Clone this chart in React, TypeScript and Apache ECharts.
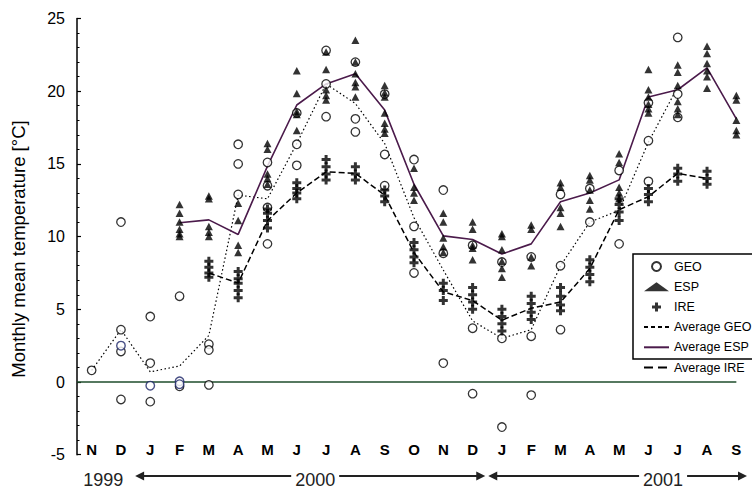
import React, { useEffect, useRef } from "react";
import * as echarts from "echarts";

// Month initials from November 1999 to September 2001
const monthLabels = ["N", "D", "J", "F", "M", "A", "M", "J", "J", "A", "S", "O", "N", "D", "J", "F", "M", "A", "M", "J", "J", "A", "S"];
const yearLabels = ["1999", "2000", "2001"];

// Monthly mean temperatures (°C) per station reading, grouped by month index
const geoReadings: number[][] = [
  [0.8], [11.0, 3.6, 2.1, -1.2], [4.5, 1.3, -1.35], [5.9, -0.3], [2.6, 2.2, -0.2],
  [16.35, 15.0, 12.9], [15.1, 13.5, 12.0, 9.5], [18.5, 16.35, 14.9], [22.8, 20.5, 18.25],
  [22.0, 18.1, 17.2], [19.8, 15.65, 13.5], [15.3, 10.7, 7.5], [13.2, 8.85, 1.3],
  [9.4, 3.7, -0.8], [8.25, 3.0, -3.1], [8.6, 3.15, -0.9], [12.9, 8.0, 3.6],
  [13.3, 11.0], [14.55, 9.5], [19.2, 16.6, 13.8], [23.7, 19.8, 18.2], [], [],
];
// GEO readings from the secondary loggers (navy outline)
const geoSecondaryReadings: number[][] = [
  [], [2.5], [-0.25], [0.05, -0.15], [], [], [], [], [], [], [], [], [], [], [], [], [], [], [], [], [], [], [],
];
const espReadings: number[][] = [
  [], [], [], [12.2, 11.6, 11.0, 10.5, 10.2, 10.0], [12.8, 12.6, 10.7, 10.3, 10.0],
  [12.3, 11.1, 9.4, 8.9], [16.4, 16.0, 14.3, 14.0, 13.6], [21.4, 19.85, 18.6, 18.4, 17.3],
  [22.7, 21.5, 20.1, 19.7, 19.4], [23.5, 22.0, 21.2, 20.6, 20.3, 19.6],
  [20.4, 19.9, 19.6, 18.5, 17.8, 17.4, 17.1], [14.7, 13.4, 13.0, 12.5],
  [11.6, 11.0, 9.9, 9.3, 8.9], [11.0, 10.5, 9.4, 9.2, 8.4], [10.2, 10.0, 9.1, 8.3, 7.8, 7.2],
  [10.8, 10.5, 8.6, 8.0], [13.7, 13.4, 12.0, 11.6, 10.7], [14.2, 13.9, 13.2, 12.5, 11.9],
  [15.7, 15.1, 13.4, 13.0, 12.6], [21.5, 20.1, 19.6, 19.1, 18.8, 18.5],
  [21.8, 21.3, 20.4, 19.3, 18.8, 18.4], [23.1, 22.6, 21.9, 21.4, 21.0, 20.2],
  [19.7, 19.4, 18.0, 17.3, 17.0],
];
const ireReadings: number[][] = [
  [], [], [], [], [8.3, 7.9, 7.5, 7.2], [7.6, 7.1, 6.8, 6.3, 5.8], [11.9, 11.6, 11.1, 10.6],
  [13.7, 13.3, 13.0, 12.6], [15.3, 14.8, 14.3, 13.9], [14.8, 14.3, 13.9], [13.2, 12.8, 12.4],
  [9.6, 9.1, 8.6, 8.2], [6.8, 6.3, 5.6], [6.5, 6.0, 5.5, 5.0], [5.0, 4.5, 4.0, 3.5],
  [5.9, 5.4, 4.8, 4.3], [6.5, 5.9, 5.3, 4.9], [8.4, 7.9, 7.4, 6.9], [12.6, 12.2, 11.7, 11.1],
  [13.3, 12.9, 12.4], [14.7, 14.3, 13.8], [14.5, 14.0, 13.6], [],
];

// Monthly averages per station
const geoAverage = [0.8, 3.6, 0.7, 1.1, 3.2, 12.85, 12.6, 16.4, 20.5, 19.15, 16.4, 11.3, 7.7, 4.2, 3.0, 3.6, 8.0, 11.0, 11.8, 16.5, 20.3, null, null];
const espAverage = [null, null, null, 10.95, 11.15, 10.15, 14.85, 19.05, 20.5, 21.2, 18.7, 13.6, 10.05, 9.8, 8.8, 9.5, 12.4, 13.0, 13.9, 19.6, 20.1, 21.6, 18.1];
const ireAverage = [null, null, null, null, 7.5, 6.8, 11.1, 13.0, 14.45, 14.35, 12.85, 8.9, 6.2, 5.6, 4.25, 5.07, 5.5, 7.8, 11.85, 12.75, 14.35, 14.0, null];

const FONT = '"Liberation Sans", Arial, Helvetica, sans-serif';
const PLUS = "path://M3,0h3v3h3v3h-3v3h-3v-3h-3v-3h3z";
// Legend entries for the average lines show the line only
const NO_MARKER = { color: "rgba(0,0,0,0)", borderColor: "rgba(0,0,0,0)", borderWidth: 0 };

function toPoints(rows: number[][]) {
  const pts: number[][] = [];
  rows.forEach((vals, i) => vals.forEach((v) => pts.push([i, v])));
  return pts;
}

export default function App() {
  const ref = useRef<HTMLDivElement>(null);

  useEffect(() => {
    document.body.style.margin = "0";
    document.body.style.overflow = "hidden";
    if (!ref.current) return;
    const chart = echarts.init(ref.current, null, { renderer: "svg" });

    const circleStyle = { color: "#fff", borderColor: "#000", borderWidth: 1.3 };

    chart.setOption({
      animation: false,
      backgroundColor: "#fff",
      grid: { left: 77, right: 1, top: 18.5, bottom: 33.3, containLabel: false },
      xAxis: {
        type: "category",
        data: monthLabels,
        boundaryGap: true,
        axisLine: { show: false },
        axisTick: { show: false },
        splitLine: { show: false },
        axisLabel: {
          interval: 0,
          margin: -13,
          color: "#000",
          fontWeight: "bold",
          fontSize: 15,
          fontFamily: FONT,
        },
      },
      yAxis: {
        type: "value",
        min: -5,
        max: 25,
        interval: 5,
        axisLine: { show: true, lineStyle: { color: "#000", width: 1.5 } },
        axisTick: { show: true, inside: true, length: 4, lineStyle: { color: "#000", width: 1.2 } },
        minorTick: { show: true, splitNumber: 5, length: 2.5, lineStyle: { color: "#000", width: 1 } },
        splitLine: { show: false },
        minorSplitLine: { show: false },
        axisLabel: { color: "#000", fontSize: 16, fontFamily: FONT, margin: 12 },
      },
      legend: {
        data: [
          { name: "GEO" },
          { name: "ESP" },
          { name: "IRE" },
          { name: "Average GEO", lineStyle: { type: [4, 3] }, itemStyle: NO_MARKER },
          { name: "Average ESP", itemStyle: NO_MARKER },
          { name: "Average IRE", lineStyle: { type: [9, 5] }, itemStyle: NO_MARKER },
        ],
        orient: "vertical",
        left: 633,
        top: 254,
        padding: [6, 40, 7, 10],
        itemWidth: 25,
        itemHeight: 9,
        itemGap: 7.2,
        borderWidth: 0,
        textStyle: { color: "#000", fontSize: 12.5, fontFamily: FONT },
      },
      series: [
        {
          name: "Average GEO",
          type: "line",
          data: geoAverage,
          symbol: "none",
          z: 2,
          lineStyle: { color: "#000", width: 1.2, type: [1.5, 2.5] },
          itemStyle: { color: "#000" },
        },
        {
          name: "Average ESP",
          type: "line",
          data: espAverage,
          symbol: "none",
          z: 2,
          lineStyle: { color: "#4b1b4b", width: 1.6, type: "solid" },
          itemStyle: { color: "#4b1b4b" },
        },
        {
          name: "Average IRE",
          type: "line",
          data: ireAverage,
          symbol: "none",
          z: 2,
          lineStyle: { color: "#000", width: 1.5, type: [6, 3] },
          itemStyle: { color: "#000" },
        },
        {
          name: "GEO",
          type: "scatter",
          data: toPoints(geoReadings),
          symbol: "circle",
          symbolSize: 8.5,
          z: 3,
          itemStyle: circleStyle,
        },
        {
          name: "GEO secondary",
          type: "scatter",
          data: toPoints(geoSecondaryReadings),
          symbol: "circle",
          symbolSize: 8.5,
          z: 3,
          itemStyle: { color: "#fff", borderColor: "#1a2366", borderWidth: 1.4 },
        },
        {
          name: "ESP",
          type: "scatter",
          data: toPoints(espReadings),
          symbol: "triangle",
          symbolSize: [8, 7.5],
          z: 4,
          itemStyle: { color: "#000" },
        },
        {
          name: "IRE",
          type: "scatter",
          data: toPoints(ireReadings),
          symbol: PLUS,
          symbolSize: 9,
          z: 5,
          itemStyle: { color: "#000" },
        },
      ],
    });

    // Annotations placed from the axes' own pixel mapping
    const px = (i: number) => chart.convertToPixel({ xAxisIndex: 0 }, i) as number;
    const y0 = chart.convertToPixel({ yAxisIndex: 0 }, 0) as number;
    const band = px(1) - px(0);
    const gridLeft = px(0) - band / 2;
    const last = monthLabels.length - 1;

    const arrowY = 476;
    const labelY = 479.5;
    const a1Start = px(1) + band / 2 - 0.5;
    const a1End = px(13) + band / 2 - 2;
    const a2Start = px(13) + band / 2 + 1;
    const a2End = px(last) + band / 2 - 4;
    const t2000 = (a1Start + a1End) / 2 + 5;
    const t2001 = (px(19) + px(20)) / 2;
    const t1999 = (px(0) + px(1)) / 2 - 3;
    const gap = 24;
    const lineStyle = { stroke: "#222", lineWidth: 2 };
    const head = (tip: number, dir: number) => ({
      type: "polygon",
      shape: { points: [[tip, arrowY], [tip - dir * 9, arrowY - 4.5], [tip - dir * 9, arrowY + 4.5]] },
      style: { fill: "#222" },
    });
    const yearText = (text: string, x: number) => ({
      type: "text",
      x,
      y: labelY,
      style: { text, fill: "#222", font: `18px ${FONT}`, textAlign: "center", textVerticalAlign: "middle" },
    });

    chart.setOption({
      graphic: [
        {
          type: "line",
          z: 1,
          shape: { x1: gridLeft, y1: y0, x2: px(last), y2: y0 },
          style: { stroke: "#1e4d2b", lineWidth: 1.3 },
        },
        // Legend frame; it runs past the right edge of the chart
        {
          type: "polyline",
          z: 1,
          shape: { points: [[800, 254], [633, 254], [633, 359], [800, 359]] },
          style: { fill: "#fff", stroke: "#000", lineWidth: 1.5 },
        },
        {
          type: "text",
          x: 18,
          y: 249,
          rotation: Math.PI / 2,
          style: {
            text: "Monthly mean temperature [°C]",
            fill: "#000",
            font: `18.5px ${FONT}`,
            textAlign: "center",
            textVerticalAlign: "middle",
          },
        },
        { type: "line", shape: { x1: a1Start + 8, y1: arrowY, x2: t2000 - gap, y2: arrowY }, style: lineStyle },
        { type: "line", shape: { x1: t2000 + gap, y1: arrowY, x2: a1End - 8, y2: arrowY }, style: lineStyle },
        head(a1Start, -1),
        head(a1End, 1),
        { type: "line", shape: { x1: a2Start + 8, y1: arrowY, x2: t2001 - gap, y2: arrowY }, style: lineStyle },
        { type: "line", shape: { x1: t2001 + gap, y1: arrowY, x2: a2End - 8, y2: arrowY }, style: lineStyle },
        head(a2Start, -1),
        head(a2End, 1),
        yearText(yearLabels[0], t1999),
        yearText(yearLabels[1], t2000),
        yearText(yearLabels[2], t2001),
      ],
    });

    return () => chart.dispose();
  }, []);

  return <div ref={ref} style={{ width: 752, height: 488 }} />;
}
